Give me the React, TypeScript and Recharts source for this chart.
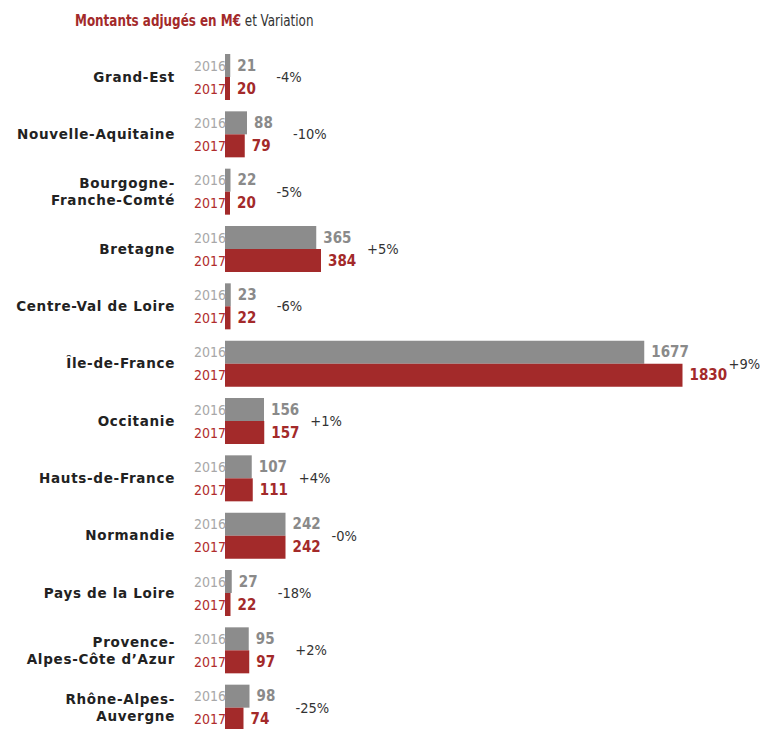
import { BarChart, Bar, XAxis, YAxis, LabelList } from 'recharts';

const regions = [
  'Grand-Est',
  'Nouvelle-Aquitaine',
  'Bourgogne-\nFranche-Comté',
  'Bretagne',
  'Centre-Val de Loire',
  'Île-de-France',
  'Occitanie',
  'Hauts-de-France',
  'Normandie',
  'Pays de la Loire',
  'Provence-\nAlpes-Côte d’Azur',
  'Rhône-Alpes-\nAuvergne',
];
const values2016 = [21, 88, 22, 365, 23, 1677, 156, 107, 242, 27, 95, 98];
const values2017 = [20, 79, 20, 384, 22, 1830, 157, 111, 242, 22, 97, 74];
const variations = ['-4%', '-10%', '-5%', '+5%', '-6%', '+9%', '+1%', '+4%', '-0%', '-18%', '+2%', '-25%'];

const GRAY = '#8c8c8c';
const RED = '#a32a2a';
const NARROW = "'Liberation Sans Narrow', 'DejaVu Sans Condensed', sans-serif";

const data = regions.map((name, i) => ({
  name,
  y2016: values2016[i],
  y2017: values2017[i],
  variation: variations[i],
}));

function RegionTick({ x, y, payload }: { x?: number; y?: number; payload?: { value: string } }) {
  const lines = String(payload?.value ?? '').split('\n');
  const lh = 17;
  const startY = (y ?? 0) - ((lines.length - 1) * lh) / 2;
  return (
    <text
      x={x}
      y={startY}
      textAnchor="end"
      dominantBaseline="central"
      fill="#222"
      fontFamily="'DejaVu Sans', sans-serif"
      fontWeight="bold"
      fontSize={13.5}
      letterSpacing={0.7}
    >
      {lines.map((line, i) => (
        <tspan key={i} x={x} y={startY + i * lh}>
          {line}
        </tspan>
      ))}
    </text>
  );
}

function yearLabel(year: string, color: string) {
  return (props: any) => {
    const { x, y, height } = props;
    return (
      <text
        x={x + 1}
        y={y + height / 2}
        textAnchor="end"
        dominantBaseline="central"
        fill={color}
        fontFamily={NARROW}
        fontSize={14}
      >
        {year}
      </text>
    );
  };
}

function valueLabel(color: string) {
  return (props: any) => {
    const { x, y, width, height, value } = props;
    return (
      <text
        x={x + width + 7}
        y={y + height / 2}
        dominantBaseline="central"
        fill={color}
        fontFamily={NARROW}
        fontWeight="bold"
        fontSize={15}
      >
        {value}
      </text>
    );
  };
}

function variationLabel(props: any) {
  const { x, y, width, index } = props;
  const d = data[index];
  const perUnit = width / d.y2017;
  const maxEnd = x + Math.max(d.y2016, d.y2017) * perUnit;
  return (
    <text
      x={maxEnd + 46}
      y={y}
      dominantBaseline="central"
      fill="#333"
      fontFamily={NARROW}
      fontSize={14.5}
    >
      {d.variation}
    </text>
  );
}

export default function App() {
  return (
    <div style={{ position: 'fixed', left: 0, top: 0, width: 760, height: 729, overflow: 'hidden', background: '#fff' }}>
      <div
        style={{
          position: 'absolute',
          left: 75,
          top: 11,
          fontFamily: NARROW,
          fontSize: 16,
          lineHeight: '20px',
          whiteSpace: 'nowrap',
          transform: 'scaleX(0.83)',
          transformOrigin: 'left center',
        }}
      >
        <span style={{ color: RED, fontWeight: 'bold' }}>Montants adjugés en M€</span>
        <span style={{ color: '#333' }}> et Variation</span>
      </div>
      <BarChart
        width={760}
        height={740}
        data={data}
        layout="vertical"
        margin={{ top: 48, right: 35, bottom: 4, left: 0 }}
        barSize={23}
        barGap={0}
      >
        <XAxis type="number" domain={[0, 2000]} hide />
        <YAxis
          type="category"
          dataKey="name"
          width={225}
          axisLine={false}
          tickLine={false}
          tickSize={0}
          tickMargin={50}
          interval={0}
          tick={<RegionTick />}
        />
        <Bar dataKey="y2016" fill={GRAY} isAnimationActive={false}>
          <LabelList dataKey="y2016" content={yearLabel('2016', '#a8a8a8')} />
          <LabelList dataKey="y2016" content={valueLabel('#8a8a8a')} />
        </Bar>
        <Bar dataKey="y2017" fill={RED} isAnimationActive={false}>
          <LabelList dataKey="y2017" content={yearLabel('2017', '#b02c2c')} />
          <LabelList dataKey="y2017" content={valueLabel(RED)} />
          <LabelList dataKey="y2017" content={variationLabel} />
        </Bar>
      </BarChart>
    </div>
  );
}
